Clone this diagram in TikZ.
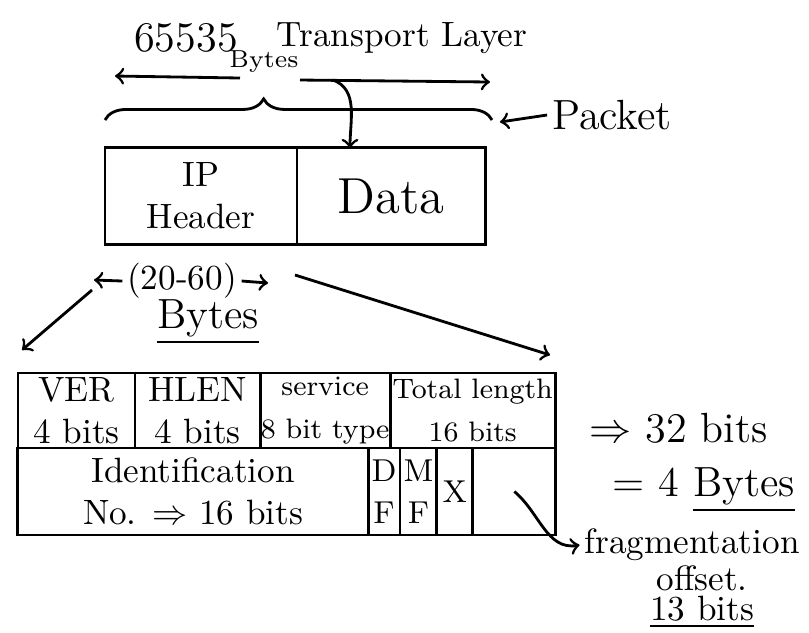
\documentclass[tikz,border=0pt]{standalone}
\usetikzlibrary{positioning,decorations.pathreplacing}

\tikzset{
  cell/.style={draw, thick, align=center, inner sep=1pt, outer sep=0pt},
  note/.style={align=center, inner sep=1pt},
}

\begin{document}
\begin{tikzpicture}[x=0.01cm, y=-0.01cm, thick]
      \useasboundingbox (0,0) rectangle (809,632);

      % TOP : TRANSPORT LAYER
      \node[note] (len)  at (186,38) {\large 65535};
      \node[note] (byt)  at (264,62) {\scriptsize Bytes};
      \node[note] (tl)   at (402,38) {Transport Layer};
      \coordinate (la) at (115,76);
      \coordinate (lb) at (240,78);
      \coordinate (ra) at (300,80);
      \coordinate (rb) at (490,82);
      \draw[->] (lb) -- (la);
      \draw[->] (ra) -- (rb);
      \coordinate (bl) at (105,120);
      \coordinate (br) at (492,120);
      \draw[decorate, decoration={brace, amplitude=6pt, aspect=0.41}] (bl) -- (br);

      % PACKET
      \node[cell, minimum width=1.92cm, minimum height=0.97cm] (iph) at (201,196) {IP\\Header};
      \node[cell, minimum width=1.88cm, minimum height=0.97cm, right=0pt of iph] (data) {\Large Data};
      \node[note] (pkt) at (612,115) {\large Packet};
      \coordinate (pk) at (500,122);
      \draw[->] (pkt.west) -- (pk);
      \coordinate (tc) at (333,80);
      \coordinate (dt) at (350,148);
      \draw[->] (tc) to[out=-20,in=90] (dt);

      % NOTES
      \node[note] (rng) at (182,281) {(20-60)};
      \coordinate (rl) at (94,280);
      \coordinate (rr) at (268,283);
      \draw[->] (rng.west) -- (rl);
      \draw[->] (rng.east) -- (rr);
      \node[note] (hb) at (208,322) {\large \underline{Bytes}};
      \coordinate (al) at (92,290);
      \coordinate (ae) at (22,350);
      \draw[->] (al) -- (ae);
      \coordinate (bs) at (295,275);
      \coordinate (be) at (550,355);
      \draw[->] (bs) -- (be);

      % HEADER : ROW 1
      \node[cell, minimum width=1.17cm, minimum height=0.75cm] (ver) at (76.5,410.5) {VER\\4 bits};
      \node[cell, minimum width=1.25cm, minimum height=0.75cm, right=0pt of ver] (hlen) {HLEN\\4 bits};
      \node[cell, minimum width=1.30cm, minimum height=0.75cm, inner sep=0pt, right=0pt of hlen] (tos) {\footnotesize service\\ \footnotesize 8 bit type};
      \node[cell, minimum width=1.65cm, minimum height=0.75cm, inner sep=0pt, right=0pt of tos] (tot) {\footnotesize Total length\\ \footnotesize 16 bits};

      % HEADER : ROW 2
      \node[cell, minimum width=3.50cm, minimum height=0.87cm] (idn) at (193,491.5) {Identification\\No. $\Rightarrow$ 16 bits};
      \node[cell, minimum width=0.30cm, minimum height=0.87cm, right=0pt of idn] (df) {\small D\\ \small F};
      \node[cell, minimum width=0.34cm, minimum height=0.87cm, right=0pt of df] (mf) {\small M\\ \small F};
      \node[cell, minimum width=0.36cm, minimum height=0.87cm, right=0pt of mf] (xx) {\small X};
      \node[cell, minimum width=0.83cm, minimum height=0.87cm, right=0pt of xx] (frag) {};

      % SIDE NOTES
      \node[note, anchor=west] (w32) at (585,428) {\large $\Rightarrow$ 32 bits};
      \node[note, anchor=east] (w4b) at (800,490) {\large = 4 \underline{Bytes}};
      \node[note] (fo1) at (692,545) {fragmentation};
      \node[note] (fo2) at (702,578) {offset.};
      \node[note] (fo3) at (702,612) {\underline{13 bits}};
      \draw[->] (frag.center) to[out=-40,in=190] (fo1.west);

\end{tikzpicture}
\end{document}
